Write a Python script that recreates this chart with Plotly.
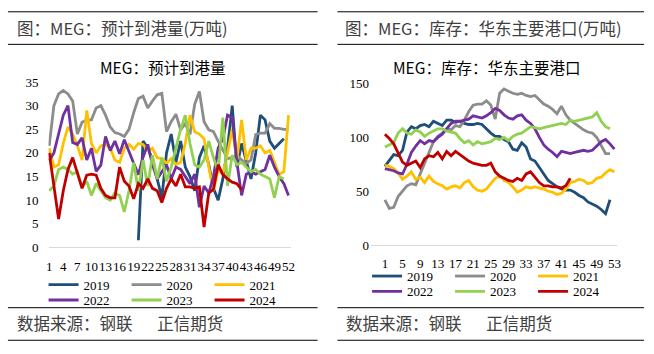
import plotly.graph_objects as go

W, H = 654, 354

years = ["2019", "2020", "2021", "2022", "2023", "2024"]
colors = ["#1F4E79", "#8C8C8C", "#FFC000", "#7030A0", "#92D050", "#C00000"]

# ---------------- Left chart: MEG 预计到港量 (万吨), by week ----------------
arr_start = [20, 1, 1, 1, 1, 1]
arr_2019 = [1.5, 22.5, 21, 18.5, 14.5, 10.5, 20, 24, 18, 22.5, 17, 15, 12, 19, 21.5, 17.5,
            12.5, 10, 14.5, 21, 30, 17, 22, 18, 14.5, 20, 28, 27, 22.5, 21, 22, 23]
arr_2020 = [21.5, 30, 32.5, 33.2, 32.5, 31, 24, 26.5, 27, 27, 29.5, 30, 28, 25.5, 24.3, 24,
            23.5, 25, 28.5, 31.5, 32, 29.5, 31, 32.3, 32.6, 24.5, 26.6, 28.2, 24.9, 26.2, 23.9,
            30.3, 33, 26.6, 24.9, 24.5, 22.5, 20.5, 18.8, 19, 19.5, 18.5, 17.8, 18.5, 23.9,
            24.2, 24.2, 26.2, 25.2, 25.2, 25, 25]
arr_2021 = [21, 17, 17.5, 22, 25.5, 24, 21.5, 18.5, 29, 22, 20, 21.5, 21.8, 21, 18.5, 18, 21,
            21.8, 20.8, 22, 21.8, 20.5, 21, 19, 18.8, 17.8, 18.8, 17.5, 18, 22, 28, 24.5, 24,
            23, 17, 12, 16.5, 15.5, 20, 25, 18.5, 27, 18.5, 21, 21, 21.5, 20, 20.5, 18, 15.5,
            16, 28]
arr_2022 = [18.4, 20, 24, 28, 30, 22.2, 21.8, 23.2, 18.5, 21, 16.1, 17.4, 23.5, 20.5, 22.5,
            19.8, 22.8, 20.1, 17.8, 15.4, 19.1, 21.8, 17.5, 14.5, 16, 17.5, 14.5, 17, 16.5, 15,
            13.5, 15.5, 8.5, 13, 11.5, 15, 21, 23, 28, 27.5, 18, 11, 15.5, 16, 15.5, 16, 16.5,
            19.5, 17, 15, 13.5, 11]
arr_2023 = [12, 13, 16.5, 17, 16.5, 15.5, 16, 12.7, 14, 11, 13.5, 12, 10.5, 10, 11.5, 11, 7.5,
            12, 18, 12, 18.5, 13, 19.5, 14.5, 19, 14, 17, 21, 25, 28, 22, 17.5, 17, 18.5, 22.5,
            19, 16, 27.5, 13, 19.5, 17.5, 18, 17, 16, 16.5, 15.5, 15, 14.5, 10.5, 15, 14.5]
arr_2024 = [20, 13, 6, 12, 16.5, 19, 15.5, 12.5, 15.3, 15.5, 15.3, 12.5, 11, 10.5, 10.5, 17, 14,
            13, 10.3, 13.5, 12.5, 14.5, 12.5, 12, 9.5, 12.5, 14.5, 13, 15.5, 12.8, 12.8, 12.5,
            12.8, 4.3, 11.5, 12.3, 17.5, 15.4, 14.5, 13.8, 13.5, 12.2]
arr_ticks = list(range(1, 53, 3))

# ---------------- Right chart: MEG 库存 华东主要港口 (万吨), by week ----------------
inv_start = [1, 1, 1, 1, 1, 1]
inv_2019 = [73, 78, 84, 83, 88, 105, 110, 108, 111, 112, 110, 115, 113, 111, 116, 116, 114, 115,
            113, 112, 112, 113, 112, 108, 104, 101, 101, 98, 96, 89, 88, 95, 91, 80, 78, 72, 66,
            60, 57, 54, 52, 51, 51, 49, 46, 44, 40, 38, 36, 33, 29, 42]
inv_2020 = [42, 34, 35, 45, 50, 55, 57, 56, 66, 76, 87, 96, 101, 104, 108, 107, 111, 110, 116,
            124, 130, 131, 131, 134, 130, 117, 141, 145, 143, 141, 140, 141, 139, 138, 139, 135,
            131, 129, 126, 122, 129, 121, 116, 113, 110, 107, 105, 104, 100, 93, 85, 85]
inv_2021 = [74, 73, 71, 67, 61, 64, 68, 61, 63, 58, 64, 59, 57, 55, 52, 54, 55, 53, 58, 60, 54,
            51, 50, 52, 57, 62, 64, 60, 58, 54, 49, 51, 54, 53, 54, 53, 52, 50, 49, 47, 48, 52,
            58, 59, 61, 60, 57, 58, 62, 63, 67, 70, 68]
inv_2022 = [71, 70, 69, 67, 66, 75, 86, 92, 97, 94, 97, 96, 100, 103, 108, 113, 115, 115, 116,
            117, 120, 119, 118, 120, 123, 127, 125, 121, 118, 117, 120, 121, 116, 113, 108, 100,
            93, 89, 86, 82, 87, 86, 85, 86, 87, 88, 87, 88, 92, 96, 98, 94, 89]
inv_2023 = [91, 93, 95, 104, 108, 104, 103, 107, 105, 101, 104, 106, 108, 108, 106, 105, 104, 99,
            95, 97, 93, 96, 94, 95, 96, 99, 98, 100, 97, 101, 103, 104, 107, 110, 109, 108, 109,
            110, 111, 112, 113, 112, 116, 115, 116, 117, 118, 119, 123, 115, 110, 108]
inv_2024 = [103, 99, 94, 85, 77, 74, 76, 78, 72, 80, 83, 82, 86, 80, 87, 83, 87, 84, 81, 78, 76,
            75, 74, 74, 76, 68, 64, 62, 60, 59, 62, 60, 66, 68, 63, 58, 55, 55, 54, 54, 53, 55, 62]
inv_ticks = list(range(1, 54, 4))

left_series = [arr_2019, arr_2020, arr_2021, arr_2022, arr_2023, arr_2024]
right_series = [inv_2019, inv_2020, inv_2021, inv_2022, inv_2023, inv_2024]

LAT = "Liberation Serif"
CJK = "Noto Sans CJK SC"


def fx(x):
    return x / W


def fy(y):
    return 1 - y / H


fig = go.Figure()

for i, (name, vals, start) in enumerate(zip(years, left_series, arr_start)):
    fig.add_trace(go.Scatter(
        x=list(range(start, start + len(vals))), y=vals, mode="lines", name=name,
        line=dict(color=colors[i], width=2.8), xaxis="x", yaxis="y",
        legend="legend" if i < 3 else "legend2", hoverinfo="skip"))

for i, (name, vals, start) in enumerate(zip(years, right_series, inv_start)):
    fig.add_trace(go.Scatter(
        x=list(range(start, start + len(vals))), y=vals, mode="lines", name=name,
        line=dict(color=colors[i], width=2.8), xaxis="x2", yaxis="y2",
        legend="legend3" if i < 3 else "legend4", hoverinfo="skip"))

tickfont = dict(family=LAT, size=13, color="#000000")
common_x = dict(showgrid=False, zeroline=False, showline=True, linecolor="#D9D9D9",
                linewidth=1, ticks="", tickangle=0, tickfont=tickfont, tickmode="array",
                fixedrange=True)
common_y = dict(showgrid=False, zeroline=False, showline=False, ticks="", tickfont=tickfont,
                fixedrange=True)

legfont = dict(family=LAT, size=13, color="#000000")


def leg(x, y):
    return dict(orientation="h", x=fx(x), y=fy(y), xanchor="left", yanchor="middle",
                font=legfont, entrywidth=38, entrywidthmode="pixels",
                bgcolor="rgba(0,0,0,0)", borderwidth=0, itemwidth=30, tracegroupgap=0)


fig.update_layout(
    width=W, height=H, autosize=False,
    margin=dict(l=0, r=0, t=0, b=0),
    paper_bgcolor="white", plot_bgcolor="white",
    xaxis=dict(common_x, domain=[fx(46), fx(291)], range=[0.85, 52.5], tickvals=arr_ticks,
               anchor="y", ticklabelstandoff=7),
    yaxis=dict(common_y, domain=[fy(251), fy(78.4)], range=[0, 35], tickmode="linear",
               tick0=0, dtick=5, anchor="x", ticklabelstandoff=9),
    xaxis2=dict(common_x, domain=[fx(372), fx(621)], range=[-2.14, 53.67], tickvals=inv_ticks,
                anchor="y2", ticklabelstandoff=6),
    yaxis2=dict(common_y, domain=[fy(248.5), fy(80)], range=[0, 150], tickmode="linear",
                tick0=0, dtick=50, anchor="x2", ticklabelstandoff=1),
    legend=leg(41, 290),
    legend2=leg(41, 306),
    legend3=leg(368, 281),
    legend4=leg(368, 297),
    showlegend=True,
)

annots = [
    dict(text="图：MEG：预计到港量(万吨)", x=fx(12), y=fy(22), xanchor="left",
         font=dict(family=CJK, size=16.5, color="#404040")),
    dict(text="图：MEG：库存：华东主要港口(万吨)", x=fx(344), y=fy(22), xanchor="left",
         font=dict(family=CJK, size=16.5, color="#404040")),
    dict(text="MEG：预计到港量", x=fx(161), y=fy(63), xanchor="center",
         font=dict(family=CJK, size=15.5, color="#000000")),
    dict(text="MEG：库存：华东主要港口", x=fx(489), y=fy(63), xanchor="center",
         font=dict(family=CJK, size=15.5, color="#000000")),
    dict(text="数据来源：钢联\u3000\u2002正信期货", x=fx(12), y=fy(330), xanchor="left",
         font=dict(family=CJK, size=16.5, color="#404040")),
    dict(text="数据来源：钢联\u3000\u2002正信期货", x=fx(345), y=fy(330), xanchor="left",
         font=dict(family=CJK, size=16.5, color="#404040")),
]
for a in annots:
    a.update(xref="paper", yref="paper", yanchor="middle", showarrow=False)
fig.update_layout(annotations=annots)

shapes = []
for (x0, x1) in [(5, 318), (338, 648)]:
    for yy in [5, 39, 314, 348]:
        shapes.append(dict(type="line", xref="paper", yref="paper", x0=fx(x0), x1=fx(x1),
                           y0=fy(yy), y1=fy(yy), line=dict(color="#000000", width=1)))
fig.update_layout(shapes=shapes)

fig.write_html("out.html", config={"displayModeBar": False})
